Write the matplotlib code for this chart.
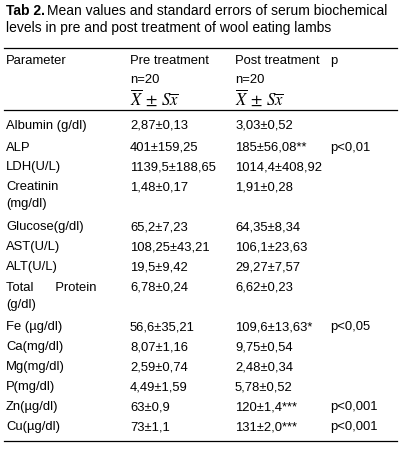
import matplotlib
matplotlib.use("Agg")
import matplotlib.pyplot as plt

params = ["Albumin (g/dl)", "ALP", "LDH(U/L)", "Creatinin\n(mg/dl)", "Glucose(g/dl)", "AST(U/L)",
          "ALT(U/L)", "Total      Protein\n(g/dl)", "Fe (µg/dl)", "Ca(mg/dl)", "Mg(mg/dl)",
          "P(mg/dl)", "Zn(µg/dl)", "Cu(µg/dl)"]
pre = ["2,87±0,13", "401±159,25", "1139,5±188,65", "1,48±0,17", "65,2±7,23", "108,25±43,21",
       "19,5±9,42", "6,78±0,24", "56,6±35,21", "8,07±1,16", "2,59±0,74", "4,49±1,59", "63±0,9", "73±1,1"]
post = ["3,03±0,52", "185±56,08**", "1014,4±408,92", "1,91±0,28", "64,35±8,34", "106,1±23,63",
        "29,27±7,57", "6,62±0,23", "109,6±13,63*", "9,75±0,54", "2,48±0,34", "5,78±0,52",
        "120±1,4***", "131±2,0***"]
pvals = ["", "p<0,01", "", "", "", "", "", "", "p<0,05", "", "", "", "p<0,001", "p<0,001"]
row_y = [126, 148, 167, 187, 227, 247, 267, 288, 327, 347, 367, 387, 407, 427]

plt.rcParams['font.family'] = ['Liberation Sans', 'DejaVu Sans']
plt.rcParams['mathtext.fontset'] = 'stix'
W, H = 401, 449
fig = plt.figure(figsize=(W/100, H/100), dpi=100)
ax = fig.add_axes([0, 0, 1, 1])
ax.set_xlim(0, W); ax.set_ylim(H, 0); ax.axis('off')

fs = 9.4
tf = 10.0
ax.text(6, 11, "Tab 2.", fontsize=tf, va='center', fontweight='bold')
ax.text(47, 11, "Mean values and standard errors of serum biochemical", fontsize=tf, va='center')
ax.text(6, 28, "levels in pre and post treatment of wool eating lambs", fontsize=tf, va='center')
for y in (48, 110, 441):
    ax.plot([4, 397], [y, y], color='black', lw=0.9)
cols = [6, 130, 235, 330]
ax.text(cols[0], 61, "Parameter", fontsize=fs, va='center')
ax.text(cols[1], 61, "Pre treatment", fontsize=fs, va='center')
ax.text(cols[2], 61, "Post treatment", fontsize=fs, va='center')
ax.text(cols[3], 61, "p", fontsize=fs, va='center')
for c in cols[1:3]:
    ax.text(c, 80, "n=20", fontsize=fs, va='center')
    ax.text(c, 98, r"$\overline{X}$ $\pm$ $S\overline{x}$", fontsize=12, va='center')
for p, a, b, pv, y in zip(params, pre, post, pvals, row_y):
    if "\n" in p:
        l1, l2 = p.split("\n")
        ax.text(cols[0], y, l1, fontsize=fs, va='center')
        ax.text(cols[0], y + 17, l2, fontsize=fs, va='center')
    else:
        ax.text(cols[0], y, p, fontsize=fs, va='center')
    ax.text(cols[1], y, a, fontsize=fs, va='center')
    ax.text(cols[2], y, b, fontsize=fs, va='center')
    ax.text(cols[3], y, pv, fontsize=fs, va='center')
fig.savefig("out.png", dpi=100)
